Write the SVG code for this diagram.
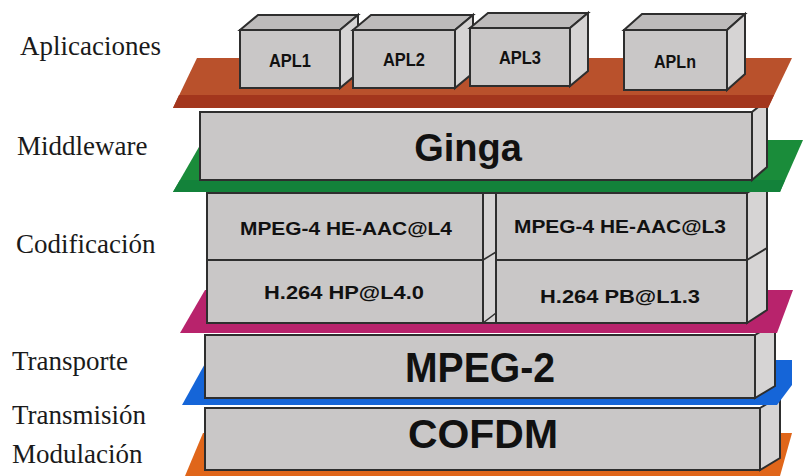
<svg xmlns="http://www.w3.org/2000/svg" width="803" height="476" viewBox="0 0 803 476">
<style>
.lbl{font-family:"Liberation Serif","Times New Roman",serif;font-size:27px;fill:#1a1a1a}
.bt{font-family:"Liberation Sans",Arial,sans-serif;font-weight:bold;fill:#111;text-anchor:middle}
.front{fill:#c9c7c7;stroke:#2e2e2e;stroke-width:2}
.side{fill:#d6d4d4;stroke:#2e2e2e;stroke-width:2}
.top{fill:#bdbbbb;stroke:#2e2e2e;stroke-width:2}
</style>
<rect width="803" height="476" fill="#ffffff"/>

<g id="labels">
<text class="lbl" x="20" y="55">Aplicaciones</text>
<text class="lbl" x="17" y="155">Middleware</text>
<text class="lbl" x="16" y="253">Codificación</text>
<text class="lbl" x="12" y="370">Transporte</text>
<text class="lbl" x="12" y="424">Transmisión</text>
<text class="lbl" x="12" y="463">Modulación</text>
</g>

<g id="plate-orange">
<polygon points="203,433 792,433 780,476 185,476" fill="#e0661a"/>
</g>
<g id="cofdm">
<polygon class="side" points="760,408 780,396 780,458 760,470"/>
<rect class="front" x="205" y="408" width="555" height="62"/>
<text class="bt" x="483" y="448" font-size="40" textLength="150" lengthAdjust="spacingAndGlyphs">COFDM</text>
</g>

<g id="plate-blue">
<polygon points="207,360 792,360 792,385 777,405 182,405" fill="#1565d8"/>
</g>
<g id="mpeg2">
<polygon class="side" points="755,335 775,323 775,386 755,398"/>
<rect class="front" x="205" y="335" width="550" height="63"/>
<text class="bt" x="480" y="382" font-size="42" textLength="150" lengthAdjust="spacingAndGlyphs">MPEG-2</text>
</g>

<g id="plate-magenta">
<polygon points="205,290 793,290 777,333 180,333" fill="#b8236c"/>
</g>
<g id="codificacion">
<polygon class="side" points="747,193 767,181 767,310 747,323"/>
<line x1="747" y1="260" x2="767" y2="248" stroke="#2e2e2e" stroke-width="2"/>
<polygon class="side" points="483,193 496,193 496,323 483,323"/>
<line x1="483" y1="260" x2="496" y2="252" stroke="#2e2e2e" stroke-width="1.5"/>
<line x1="483" y1="323" x2="496" y2="313" stroke="#2e2e2e" stroke-width="1.5"/>
</g>
<g id="aac-l4">
<rect class="front" x="207" y="193" width="276" height="67"/>
<text class="bt" x="346" y="235" font-size="19" textLength="212" lengthAdjust="spacingAndGlyphs">MPEG-4 HE-AAC@L4</text>
</g>
<g id="h264-hp">
<rect class="front" x="207" y="260" width="276" height="63"/>
<text class="bt" x="344" y="299" font-size="19" textLength="160" lengthAdjust="spacingAndGlyphs">H.264 HP@L4.0</text>
</g>
<g id="aac-l3">
<rect class="front" x="496" y="193" width="251" height="67"/>
<text class="bt" x="620" y="233" font-size="19" textLength="212" lengthAdjust="spacingAndGlyphs">MPEG-4 HE-AAC@L3</text>
</g>
<g id="h264-pb">
<rect class="front" x="496" y="260" width="251" height="63"/>
<text class="bt" x="620" y="303" font-size="19" textLength="160" lengthAdjust="spacingAndGlyphs">H.264 PB@L1.3</text>
</g>

<g id="plate-green">
<polygon points="203,140 803,140 780,192 173,192" fill="#1a8c3a"/>
<polygon points="180,180 785,180 780,192 173,192" fill="#13823a"/>
</g>
<g id="ginga">
<polygon class="side" points="752,112 767,100 767,167 752,180"/>
<rect class="front" x="200" y="112" width="552" height="68"/>
<text class="bt" x="468" y="161" font-size="38">Ginga</text>
</g>

<g id="plate-brown">
<polygon points="197,58 792,58 768,108 173,108" fill="#b9512c"/>
<polygon points="179,95 774,95 768,108 173,108" fill="#a3361d"/>
</g>

<g id="apl1">
<polygon class="top" points="240,30 258,15 358,15 340,30"/>
<polygon class="side" points="340,30 358,15 358,73 340,88"/>
<rect class="front" x="240" y="30" width="100" height="58"/>
<text class="bt" x="290" y="67" font-size="19" textLength="42" lengthAdjust="spacingAndGlyphs">APL1</text>
</g>
<g id="apl2">
<polygon class="top" points="353,30 371,15 473,15 455,30"/>
<polygon class="side" points="455,30 473,15 473,73 455,88"/>
<rect class="front" x="353" y="30" width="102" height="58"/>
<text class="bt" x="404" y="66" font-size="19" textLength="42" lengthAdjust="spacingAndGlyphs">APL2</text>
</g>
<g id="apl3">
<polygon class="top" points="470,28 488,13 588,13 570,28"/>
<polygon class="side" points="570,28 588,13 588,71 570,86"/>
<rect class="front" x="470" y="28" width="100" height="58"/>
<text class="bt" x="520" y="64" font-size="19" textLength="42" lengthAdjust="spacingAndGlyphs">APL3</text>
</g>
<g id="apln">
<polygon class="top" points="624,30 642,14 745,14 727,30"/>
<polygon class="side" points="727,30 745,14 745,74 727,90"/>
<rect class="front" x="624" y="30" width="103" height="60"/>
<text class="bt" x="675" y="68" font-size="19" textLength="42" lengthAdjust="spacingAndGlyphs">APLn</text>
</g>

<g id="connectors"></g>
</svg>
